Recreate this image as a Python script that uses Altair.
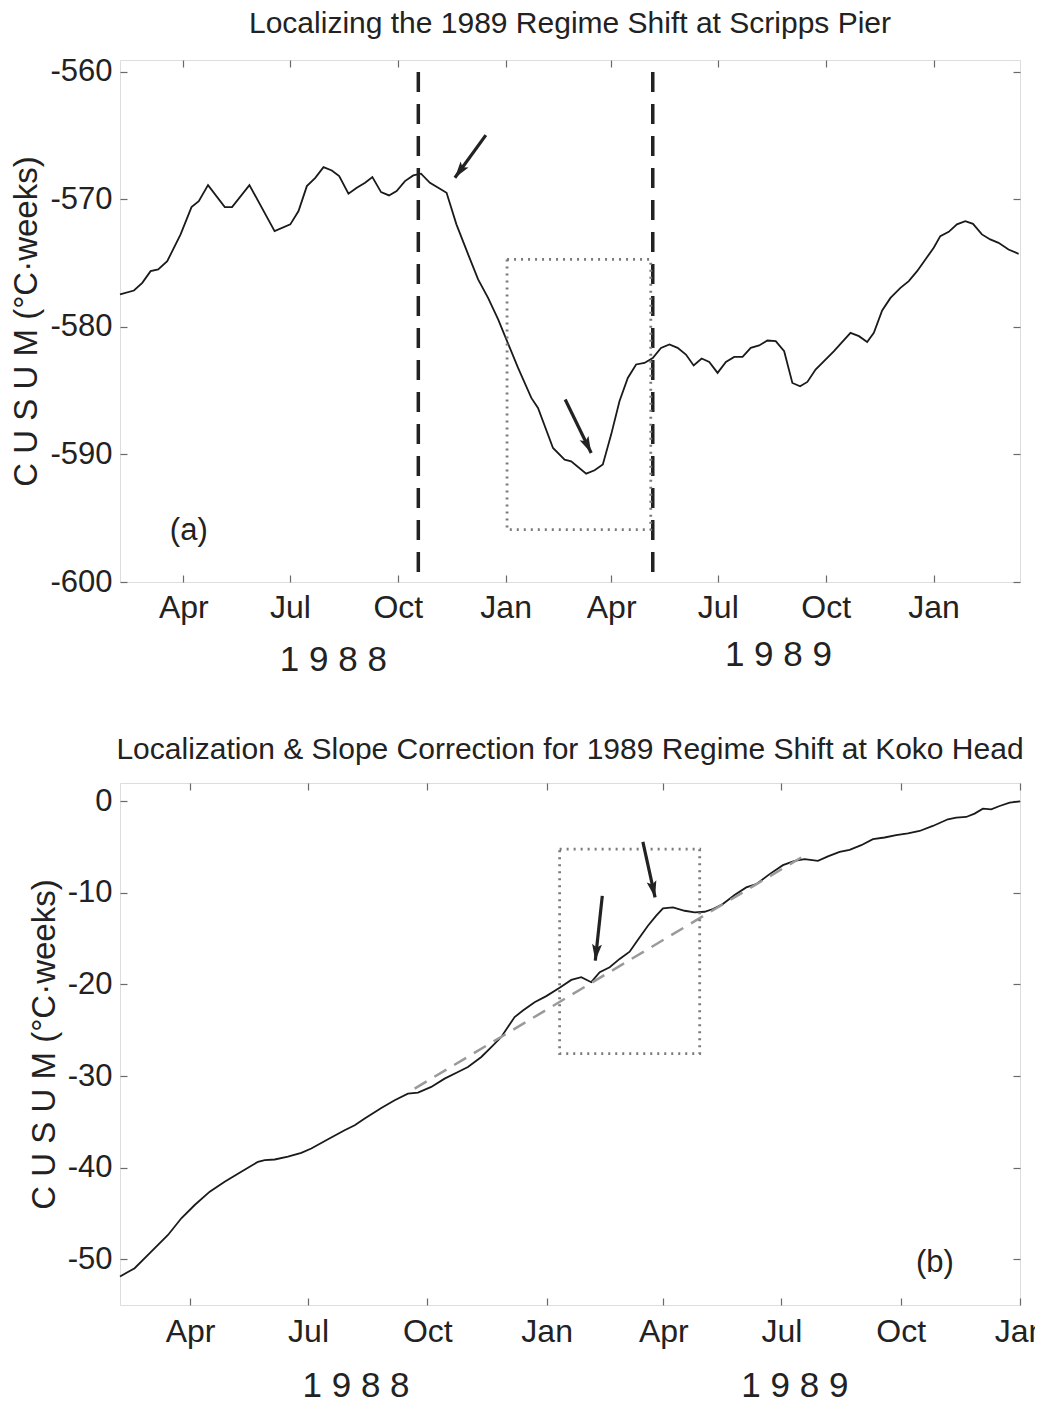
import altair as alt
import pandas as pd

FONT = "Liberation Sans"
START = "1988-02-07"

# ---------------- Panel (a): Scripps Pier ----------------
# days since 1988-02-07, CUSUM value (°C·weeks)
a_days = [0, 11.9, 19, 26.1, 32.6, 40.3, 51.7, 61, 67.2, 75.1,
          89.4, 95.6, 110.4, 131.9, 145.3, 152.3, 159.4, 166.6, 173.6, 180.7,
          187, 194.9, 202, 209.1, 215.3, 222.7, 229.5, 236, 243.1, 250.2,
          256.8, 264.4, 271.5, 278.6, 287, 297, 305.5, 314, 322.6, 328.8,
          339.6, 350.9, 356.6, 369.4, 379.3, 384.9, 397.7, 404.9, 411.9, 419,
          426.1, 433.2, 440.3, 447.4, 454.5, 461.5, 468.7, 475.7, 482.8, 489.4,
          496.2, 502.7, 509.8, 516.9, 524, 531.1, 538.1, 545.3, 552.3, 559.4,
          566.6, 573.6, 580.2, 586.4, 593.4, 600.6, 609.1, 616.2, 623.2, 630.4,
          637.4, 643.1, 650.2, 657.3, 665.8, 672.9, 680, 687.1, 694.2, 699.8,
          707, 714, 721.1, 727.7, 735.3, 742.4, 749.5, 758, 766.6]
a_vals = [-577.45, -577.14, -576.54, -575.62, -575.49, -574.84, -572.74, -570.6, -570.13, -568.87,
          -570.6, -570.6, -568.87, -572.48, -571.95, -570.91, -568.95, -568.3, -567.46, -567.72,
          -568.16, -569.55, -569.08, -568.69, -568.24, -569.42, -569.68, -569.34, -568.56, -568.11,
          -567.98, -568.69, -569.08, -569.47, -571.95, -574.31, -576.27, -577.72, -579.41, -580.8,
          -583.21, -585.56, -586.35, -589.49, -590.4, -590.53, -591.5, -591.24, -590.79, -588.44,
          -585.82, -584.0, -582.94, -582.82, -582.43, -581.64, -581.37, -581.64, -582.16, -583.02,
          -582.47, -582.74, -583.6, -582.74, -582.35, -582.35, -581.64, -581.45, -581.06, -581.11,
          -581.9, -584.39, -584.65, -584.31, -583.34, -582.68, -581.9, -581.17, -580.46, -580.72,
          -581.17, -580.46, -578.7, -577.72, -576.93, -576.4, -575.62, -574.7, -573.79, -572.87,
          -572.54, -571.95, -571.7, -571.91, -572.74, -573.13, -573.4, -573.92, -574.26]

a_shift_days = [254.5, 454.5]          # dashed regime-shift bounds
a_box_days = [330.2, 452.8]            # dotted box x extent
a_box_vals = [-574.7, -595.9]          # dotted box y extent
a_arrow_tail_days = [312.1, 379.8]
a_arrow_tail_vals = [-564.95, -585.69]
a_arrow_tip_days = [285.7, 402.0]
a_arrow_tip_vals = [-568.3, -589.88]
a_arrow_angles = [216, 154]
a_label_day, a_label_val = 58.7, -596.0
a_year_days = [182, 561.7]
a_year_text = ["1 9 8 8", "1 9 8 9"]

# ---------------- Panel (b): Koko Head ----------------
b_days = [0, 11.3, 24.1, 37, 47.3, 57.6, 69.2, 80.7, 93.5, 106.4,
          111.6, 119.3, 129.5, 139.8, 147.5, 160.4, 173.2, 181, 188.7, 201.5,
          211.8, 222, 229.8, 240, 250.3, 260.6, 268.3, 278.6, 286.3, 294,
          304.3, 310.7, 319.7, 328.7, 339, 348, 355.7, 363.4, 369.9, 377.6,
          385.3, 393, 399.4, 407.1, 413.5, 418.7, 426.4, 435.4, 443.1, 450.8,
          457.2, 464.9, 473.9, 482.9, 490.6, 500.9, 511.2, 520.2, 527.9, 538.2,
          545.9, 554.9, 562.6, 571.6, 580.6, 589.6, 598.5, 607.6, 616.6, 626.8,
          638.4, 644.8, 652.5, 659, 665.4, 671.8, 678.3, 686, 694]
b_vals = [-51.89, -50.98, -49.16, -47.35, -45.53, -44.08, -42.62, -41.54, -40.45, -39.36,
          -39.18, -39.11, -38.81, -38.38, -37.91, -36.9, -35.92, -35.37, -34.64, -33.48,
          -32.65, -31.92, -31.81, -31.19, -30.28, -29.55, -29.01, -27.92, -26.83, -25.74,
          -23.56, -22.84, -21.93, -21.27, -20.37, -19.5, -19.2, -19.75, -18.66, -18.12,
          -17.21, -16.42, -15.11, -13.58, -12.49, -11.69, -11.58, -11.95, -12.12, -12.06,
          -11.76, -11.22, -10.24, -9.4, -9.04, -7.95, -6.97, -6.5, -6.32, -6.5,
          -6.02, -5.52, -5.3, -4.79, -4.14, -3.95, -3.7, -3.49, -3.24, -2.69,
          -1.96, -1.78, -1.71, -1.34, -0.8, -0.87, -0.51, -0.14, 0.0]

b_fit_days = [227.2, 525.3]            # slope-correction line
b_fit_vals = [-31.37, -6.13]
b_box_days = [339, 447]
b_box_vals = [-5.23, -27.56]
b_arrow_tail_days = [371.9, 403.2]
b_arrow_tail_vals = [-10.32, -4.43]
b_arrow_tip_days = [366.5, 412.6]
b_arrow_tip_vals = [-17.4, -10.49]
b_arrow_angles = [186, 167.5]
b_label_day, b_label_val = 628.4, -50.4
b_year_days = [182, 520.4]
b_year_text = ["1 9 8 8", "1 9 8 9"]

Y_TITLE = "C U S U M (°C·weeks)"
W, H = 900, 522
INK = "#1a1a1a"
FRAME = "#6a6a6a"
HYPHEN = "replace(datum.label, '\u2212', '-')"


def to_dates(days):
    base = pd.Timestamp(START)
    return [(base + pd.Timedelta(days=float(d))).strftime("%Y-%m-%dT%H:%M") for d in days]


def dt(y, m, d, h=0):
    return alt.DateTime(year=y, month=m, date=d, hours=h)


def tick_axis(orient, offset, values):
    return alt.Axis(orient=orient, offset=offset, values=values, labels=False,
                    ticks=True, tickSize=7, tickColor=FRAME, tickWidth=1.2,
                    domain=False, grid=False, title=None, minExtent=0)


def panel(title, days, vals, x_dom, y_dom, x_ticks, y_ticks, extra_rule, box,
          arrows, label, years, title_padding, x_label_pad):
    xs = alt.Scale(domain=x_dom)
    ys = alt.Scale(domain=y_dom, nice=False, zero=False)

    main_x = alt.Axis(orient="bottom", values=x_ticks, format="%b", labelFontSize=32,
                      labelFont=FONT, labelColor="#222", labelPadding=x_label_pad,
                      ticks=False, tickSize=0, domain=False, grid=False, labelFlush=False,
                      labelOverlap=False, title=None)
    main_y = alt.Axis(orient="left", values=y_ticks, labelFontSize=31, labelFont=FONT,
                      labelColor="#222", labelPadding=8, ticks=False, tickSize=0,
                      domain=False, grid=False, labelExpr=HYPHEN, title=Y_TITLE,
                      titleFontSize=33, titleFont=FONT, titleFontWeight="normal",
                      titleColor="#222", titlePadding=title_padding)

    curve = pd.DataFrame({"date": to_dates(days), "v": vals})
    line = alt.Chart(curve).mark_line(color=INK, strokeWidth=1.8).encode(
        x=alt.X("date:T", scale=xs, axis=main_x),
        y=alt.Y("v:Q", scale=ys, axis=main_y),
    )

    extra = extra_rule(xs, ys)

    bx = pd.DataFrame({"x": [to_dates(box[0])[0]], "x2": [to_dates(box[0])[1]],
                       "y": [box[1][0]], "y2": [box[1][1]]})
    rect = alt.Chart(bx).mark_rect(fill=None, stroke="#7a7a7a", strokeWidth=2.8,
                                   strokeDash=[2, 5]).encode(
        x=alt.X("x:T", scale=xs, axis=tick_axis("bottom", -H, x_ticks)),
        x2="x2:T",
        y=alt.Y("y:Q", scale=ys, axis=tick_axis("left", -W, y_ticks)),
        y2="y2:Q",
    )

    tails_d, tails_v, tips_d, tips_v, angles = arrows
    ar = pd.DataFrame({"x": to_dates(tails_d), "y": tails_v, "x2": to_dates(tips_d),
                       "y2": tips_v, "angle": angles})
    shafts = alt.Chart(ar).mark_rule(color="#222", strokeWidth=3.2).encode(
        x=alt.X("x:T", scale=xs, axis=None), x2="x2:T",
        y=alt.Y("y:Q", scale=ys, axis=None), y2="y2:Q",
    )
    heads = alt.Chart(ar).mark_point(filled=True, opacity=1, color="#222", size=270,
                                     shape="M0,0L-0.6,2L0,1.6L0.6,2Z").encode(
        x=alt.X("x2:T", scale=xs, axis=None),
        y=alt.Y("y2:Q", scale=ys, axis=None),
        angle=alt.Angle("angle:Q", scale=None),
    )

    lab = pd.DataFrame({"x": to_dates([label[0]]), "y": [label[1]], "t": [label[2]]})
    lab_text = alt.Chart(lab).mark_text(font=FONT, fontSize=31, color="#222",
                                        align="center", baseline="middle").encode(
        x=alt.X("x:T", scale=xs, axis=None), y=alt.Y("y:Q", scale=ys, axis=None),
        text="t:N")

    yr_days, yr_text, yr_offsets = years
    yr = pd.DataFrame({"x": to_dates(yr_days), "t": yr_text, "off": yr_offsets})
    yr_layers = []
    for i in range(len(yr)):
        yr_layers.append(
            alt.Chart(yr.iloc[[i]]).mark_text(font=FONT, fontSize=35, color="#222",
                                              align="center", baseline="middle").encode(
                x=alt.X("x:T", scale=xs, axis=None),
                y=alt.value(float(yr["off"].iloc[i])),
                text="t:N")
        )

    return alt.layer(line, extra, rect, shafts, heads, lab_text, *yr_layers).resolve_axis(
        x="independent", y="independent"
    ).properties(
        width=W, height=H,
        title=alt.TitleParams(text=title, fontSize=30, font=FONT, fontWeight="normal",
                              color="#222", anchor="middle", frame="group",
                              offset=-7, baseline="alphabetic"),
    )


A_X_TICKS = [dt(1988, 4, 1), dt(1988, 7, 1), dt(1988, 10, 1), dt(1989, 1, 1),
             dt(1989, 4, 1), dt(1989, 7, 1), dt(1989, 10, 1), dt(1990, 1, 1)]
B_X_TICKS = A_X_TICKS


def a_extra(xs, ys):
    df = pd.DataFrame({"x": to_dates(a_shift_days), "y": [-560, -560], "y2": [-600, -600]})
    return alt.Chart(df).mark_rule(color="#222", strokeWidth=3.5, strokeDash=[20, 12]).encode(
        x=alt.X("x:T", scale=xs, axis=tick_axis("top", -H, A_X_TICKS)),
        y=alt.Y("y:Q", scale=ys, axis=tick_axis("right", -W, [-600, -590, -580, -570, -560])),
        y2="y2:Q",
    )


def b_extra(xs, ys):
    df = pd.DataFrame({"x": to_dates(b_fit_days), "y": b_fit_vals})
    return alt.Chart(df).mark_line(color="#9a9a9a", strokeWidth=2.5, strokeDash=[14, 9]).encode(
        x=alt.X("x:T", scale=xs, axis=tick_axis("top", -H, B_X_TICKS)),
        y=alt.Y("y:Q", scale=ys, axis=tick_axis("right", -W, [-50, -40, -30, -20, -10, 0])),
    )


top = panel(
    "Localizing the 1989 Regime Shift at Scripps Pier",
    a_days, a_vals,
    [dt(1988, 2, 7), dt(1990, 3, 15, 19)], [-600, -559.06],
    A_X_TICKS, [-600, -590, -580, -570, -560],
    a_extra, (a_box_days, a_box_vals),
    (a_arrow_tail_days, a_arrow_tail_vals, a_arrow_tip_days, a_arrow_tip_vals, a_arrow_angles),
    (a_label_day, a_label_val, "(a)"),
    (a_year_days, a_year_text, [600, 595]),
    6, 10,
)

bottom = panel(
    "Localization & Slope Correction for 1989 Regime Shift at Koko Head",
    b_days, b_vals,
    [dt(1988, 2, 7), dt(1990, 1, 1)], [-55, 2],
    B_X_TICKS, [-50, -40, -30, -20, -10, 0],
    b_extra, (b_box_days, b_box_vals),
    (b_arrow_tail_days, b_arrow_tail_vals, b_arrow_tip_days, b_arrow_tip_vals, b_arrow_angles),
    (b_label_day, b_label_val, "(b)"),
    (b_year_days, b_year_text, [603, 603]),
    6, 11,
)

chart = alt.vconcat(top, bottom, spacing=55).properties(
    padding={"left": 2, "top": 0, "right": -12, "bottom": 0}
).configure_view(stroke=FRAME, strokeWidth=1.3).configure(background="white")

chart.save("out.html", embed_options={"renderer": "svg", "actions": False})
